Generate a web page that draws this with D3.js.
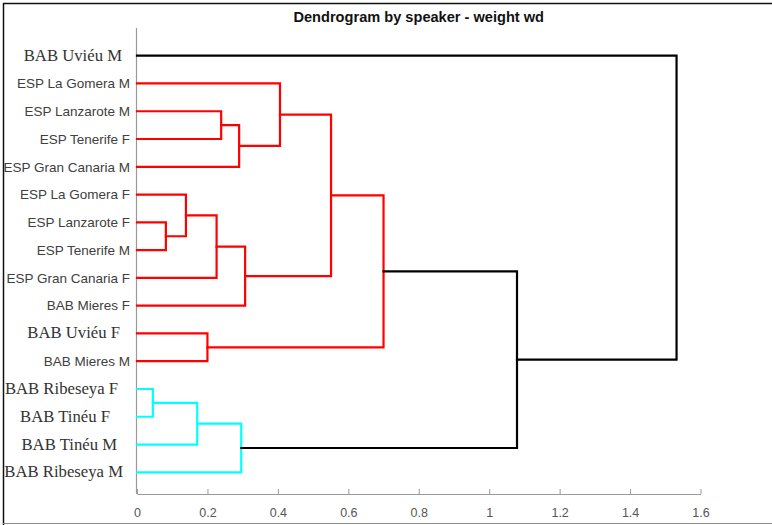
<!DOCTYPE html>
<html>
<head>
<meta charset="utf-8">
<script src="https://cdn.jsdelivr.net/npm/d3@7/dist/d3.min.js"></script>
<style>
  html, body { margin: 0; padding: 0; background: #fff; }
  svg { display: block; }
</style>
</head>
<body>
<svg id="chart" width="772" height="525"></svg>
<script>
// Leaves, listed top to bottom as they appear on the vertical axis
const leafLabels = [
  "BAB Uviéu M", "ESP La Gomera M", "ESP Lanzarote M", "ESP Tenerife F",
  "ESP Gran Canaria M", "ESP La Gomera F", "ESP Lanzarote F", "ESP Tenerife M",
  "ESP Gran Canaria F", "BAB Mieres F", "BAB Uviéu F", "BAB Mieres M",
  "BAB Ribeseya F", "BAB Tinéu F", "BAB Tinéu M", "BAB Ribeseya M"
];

// Linkage: merge k creates node 16 + k from the two listed nodes
const mergePairs = [
  [12, 13], [6, 7], [5, 17], [14, 16], [10, 11], [8, 18], [2, 3], [4, 22],
  [15, 19], [9, 21], [1, 23], [25, 26], [20, 27], [24, 28], [0, 29]
];
const mergeHeights = [
  0.045, 0.082, 0.139, 0.171, 0.200, 0.226, 0.239, 0.290,
  0.296, 0.307, 0.406, 0.551, 0.700, 1.079, 1.532
];

const xTicks = [0, 0.2, 0.4, 0.6, 0.8, 1, 1.2, 1.4, 1.6];
const titleText = "Dendrogram by speaker - weight wd";

const clusterColors = ["#ff0000", "#00ffff"];

const svg = d3.select("#chart");

// Figure frame
svg.append("line").attr("x1", 3.5).attr("y1", 3).attr("x2", 3.5).attr("y2", 525)
  .attr("stroke", "#111").attr("stroke-width", 1.5);
svg.append("line").attr("x1", 3).attr("y1", 3.5).attr("x2", 772).attr("y2", 3.5)
  .attr("stroke", "#111").attr("stroke-width", 1.5);
svg.append("line").attr("x1", 3).attr("y1", 523.5).attr("x2", 772).attr("y2", 523.5)
  .attr("stroke", "#8a8a8a").attr("stroke-width", 1.2);

const plot = { left: 137, right: 700.5, top: 28, bottom: 494 };

const x = d3.scaleLinear().domain([0, 1.6]).range([plot.left, plot.right]);
const yLeaf = d3.scalePoint().domain(d3.range(leafLabels.length)).range([55.7, 472.3]);

// Node positions: leaves first, then merges
const nLeaves = leafLabels.length;
const nodeY = [], nodeH = [];
leafLabels.forEach((_, i) => { nodeY[i] = yLeaf(i); nodeH[i] = 0; });
mergePairs.forEach(([a, b], k) => {
  const id = nLeaves + k;
  nodeY[id] = (nodeY[a] + nodeY[b]) / 2;
  nodeH[id] = mergeHeights[k];
});

// Colour clusters below 70% of the largest merge height
const threshold = 0.7 * d3.max(mergeHeights);
const parentOf = {};
mergePairs.forEach(([a, b], k) => { parentOf[a] = nLeaves + k; parentOf[b] = nLeaves + k; });
const roots = [];
mergePairs.forEach((_, k) => {
  const id = nLeaves + k;
  const p = parentOf[id];
  if (nodeH[id] < threshold && (p === undefined || nodeH[p] >= threshold)) roots.push(id);
});
function minLeafY(id) {
  if (id < nLeaves) return nodeY[id];
  const [a, b] = mergePairs[id - nLeaves];
  return Math.min(minLeafY(a), minLeafY(b));
}
roots.sort((a, b) => minLeafY(a) - minLeafY(b));
const nodeColor = {};
function paint(id, c) {
  nodeColor[id] = c;
  if (id >= nLeaves) mergePairs[id - nLeaves].forEach(ch => paint(ch, c));
}
roots.forEach((r, i) => paint(r, clusterColors[i % clusterColors.length]));

// Axes
const gx = svg.append("g").attr("transform", `translate(0,${plot.bottom})`)
  .call(d3.axisBottom(x).tickValues(xTicks).tickSizeInner(-5).tickSizeOuter(0)
    .tickPadding(14).tickFormat(d => String(+d.toFixed(1))));
gx.select(".domain").attr("stroke", "#9a9a9a").attr("stroke-width", 1.2);
gx.selectAll(".tick line").attr("stroke", "#9a9a9a");
gx.selectAll(".tick text").attr("fill", "#555").attr("font-family", "Liberation Sans, Arial, sans-serif")
  .attr("font-size", 12.5);

svg.append("line").attr("x1", plot.left - 0.5).attr("x2", plot.left - 0.5)
  .attr("y1", plot.top).attr("y2", plot.bottom)
  .attr("stroke", "#9a9a9a").attr("stroke-width", 1.2);

// Dendrogram links
const line = d3.line().x(d => d[0]).y(d => d[1]);
svg.append("g").selectAll("path").data(mergePairs).join("path")
  .attr("d", ([a, b], k) => {
    const h = mergeHeights[k];
    return line([[x(nodeH[a]), nodeY[a]], [x(h), nodeY[a]], [x(h), nodeY[b]], [x(nodeH[b]), nodeY[b]]]);
  })
  .attr("fill", "none")
  .attr("stroke", (_, k) => nodeColor[nLeaves + k] || "#000")
  .attr("stroke-width", 2.2)
  .attr("stroke-linejoin", "miter")
  .attr("stroke-linecap", "square");

// Leaf labels: names with accented glyphs fall back to a serif face
const serifLabels = {
  "BAB Uviéu M": -15, "BAB Uviéu F": -17, "BAB Ribeseya F": -19,
  "BAB Tinéu F": -27, "BAB Tinéu M": -20, "BAB Ribeseya M": -14
};
svg.append("g").selectAll("text").data(leafLabels).join("text")
  .attr("x", d => d in serifLabels ? plot.left + serifLabels[d] : plot.left - 7)
  .attr("y", (d, i) => yLeaf(i) + (d in serifLabels ? 5 : 4.8))
  .attr("text-anchor", "end")
  .attr("font-family", d => d in serifLabels ? "Liberation Serif, Times New Roman, serif" : "Liberation Sans, Arial, sans-serif")
  .attr("font-size", d => d in serifLabels ? 16.7 : 13.5)
  .attr("fill", d => d in serifLabels ? "#333" : "#404040")
  .text(d => d);

// Title
svg.append("text")
  .attr("x", (plot.left + plot.right) / 2).attr("y", 22)
  .attr("text-anchor", "middle")
  .attr("font-family", "Liberation Sans, Arial, sans-serif")
  .attr("font-weight", "bold").attr("font-size", 14.6)
  .attr("fill", "#111")
  .text(titleText);
</script>
</body>
</html>
